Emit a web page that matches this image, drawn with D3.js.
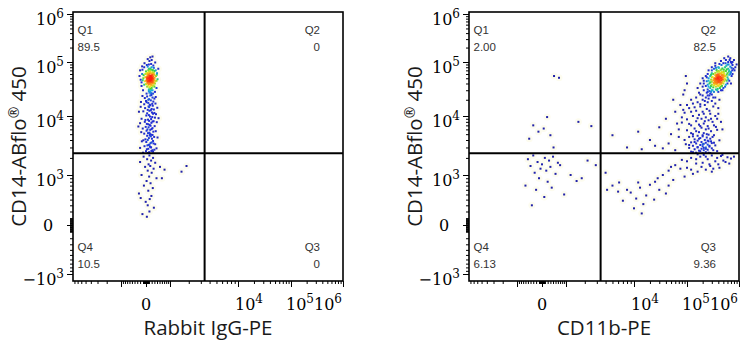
<!DOCTYPE html>
<html>
<head>
<meta charset="utf-8">
<script src="https://cdn.jsdelivr.net/npm/d3@7"></script>
<style>
  body { margin: 0; background: #fff; }
  svg { display: block; }
  .tick-label { font-family: "DejaVu Serif", serif; font-size: 16px; fill: #000; }
  .quad-label { font-family: "Liberation Sans", Arial, sans-serif; font-size: 11.5px; fill: #333; }
  .axis-title { font-family: "Open Sans", "Noto Sans", sans-serif; font-size: 20.5px; fill: #1a1a1a; }
</style>
</head>
<body>
<svg id="chart" width="752" height="350"></svg>
<script>
/* Events, [x, y] in fluorescence units */
const leftEvents = [
  // dense core
  [120,46000],[180,52000],[60,41000],[240,48000],[150,39000],[90,55000],[210,44000],[30,47000],[280,42000],[130,61000],
  [170,45000],[100,50000],[220,57000],[-40,44000],[310,51000],[140,35000],[70,63000],[190,38000],[250,60000],[110,43000],
  [160,49000],[20,53000],[230,40000],[80,37000],[300,46000],[-90,50000],[140,68000],[200,33000],[50,58000],[260,54000],
  [120,40000],[180,47000],[0,39000],[340,44000],[100,31000],[230,65000],[-20,60000],[150,55000],[270,37000],[60,48000],
  [130,52000],[210,50000],[90,45000],[160,42000],[40,35000],[290,58000],[-60,38000],[180,72000],[110,57000],[240,43000],
  [150,47000],[70,53000],[200,61000],[120,34000],[320,40000],[10,45000],[170,38000],[260,49000],[80,70000],[140,44000],
  [190,56000],[-110,46000],[230,52000],[100,29000],[50,42000],[280,63000],[160,32000],[130,48000],[220,36000],[70,59000],
  [360,55000],[-30,52000],[150,76000],[200,42000],[90,39000],[250,45000],[110,66000],[180,30000],[30,62000],[140,50000],
  [170,54000],[60,44000],[270,41000],[-80,57000],[210,47000],[120,27000],[300,35000],[160,64000],[40,50000],[230,30000],
  [-120,72000],[350,70000],[-60,80000],[280,78000],[60,82000],[200,80000],[-100,30000],[320,28000],[20,26000],[250,26000],
  [150,28000],[-150,42000],[380,45000],[-130,60000],[390,58000],[100,74000],[240,71000],[0,67000],[300,68000],[180,26500],
  // top of the column
  [100,90000],[200,110000],[-50,95000],[260,86000],[150,125000],[30,88000],[330,98000],[120,105000],[-130,83000],[230,130000],
  [180,92000],[60,115000],[-200,70000],[-180,47000],[420,48000],[400,62000],[-150,36000],[380,33000],[450,75000],[-220,55000],
  // column down to the gate
  [150,24000],[40,23000],[230,22000],[-120,23500],[300,21000],[110,20500],[-40,21500],[190,24500],[80,20000],[350,22500],
  [0,19000],[260,18500],[80,17500],[-60,16500],[170,19500],[340,17000],[130,16200],[20,18000],[220,16800],[-170,18200],
  [240,15500],[-180,14800],[90,15000],[200,13500],[410,14200],[60,13000],[150,15800],[-30,14000],[280,13200],[110,14600],
  [120,12500],[-240,12000],[210,11600],[40,11200],[360,10800],[100,10400],[-90,12200],[250,11000],[10,10200],[170,12800],[300,11400],
  [140,9800],[320,9400],[-150,9000],[70,8700],[220,9600],[460,9200],[-20,8600],[180,8900],
  [110,8300],[-40,8000],[190,7700],[30,7400],[270,8200],[-200,7600],[130,7100],[390,7900],[80,7300],[230,8100],
  [160,6900],[-10,6600],[230,6300],[50,6000],[310,6800],[-110,6200],[150,5900],[90,6500],[200,6100],[-260,6700],
  [20,5700],[260,5500],[120,5300],[-60,5100],[180,4900],[350,5600],[70,5200],[140,5000],[-160,5400],[230,4850],
  [40,4700],[290,4500],[100,4300],[-20,4100],[170,4600],[420,4400],[60,4000],[210,4200],[-90,3950],[130,4750],
  [250,3850],[10,3700],[160,3550],[330,3400],[-140,3800],[90,3300],[200,3650],[50,3250],[270,3500],[120,3350],
  [-50,3150],[180,3000],[380,2900],[30,2800],[140,3100],[-200,2950],[230,2700],[80,2850],[300,2750],[160,3050],
  [0,2600],[110,2500],[250,2550],[-100,2450],[190,2620],[60,2420],
  // below the gate
  [120,2200],[-80,2100],[250,2000],[40,1900],[180,1800],[-200,1700],[330,1650],[90,1550],[150,1450],[-30,1400],
  [270,1300],[60,1200],[200,1100],[-150,1000],[110,950],[380,900],[20,820],[160,760],[-70,700],[240,640],
  [80,580],[-240,520],[190,470],[130,410],[-10,360],[60,300],[280,260],[120,200],[-120,160],[30,120],
  [1550,1150],[1850,1450],[520,1400],[720,1250],[600,900],[-180,430]
];

const rightEvents = [
  // Q2 core
  [400000,45000],[350000,40000],[450000,50000],[380000,52000],[420000,38000],[320000,46000],[480000,56000],[360000,35000],[440000,43000],[300000,38000],
  [520000,60000],[390000,48000],[410000,55000],[340000,44000],[460000,41000],[370000,58000],[500000,47000],[280000,33000],[430000,62000],[330000,50000],
  [470000,65000],[360000,42000],[400000,36000],[550000,55000],[310000,30000],[420000,47000],[380000,44000],[490000,52000],[350000,57000],[260000,35000],
  [440000,70000],[400000,53000],[370000,39000],[600000,62000],[330000,41000],[460000,46000],[290000,28000],[510000,72000],[390000,37000],[420000,60000],
  [340000,48000],[480000,43000],[250000,31000],[560000,68000],[410000,49000],[360000,55000],[450000,39000],[320000,34000],[530000,50000],[380000,66000],
  [300000,43000],[470000,58000],[430000,33000],[370000,47000],[620000,75000],[270000,40000],[400000,42000],[500000,63000],[350000,50000],[440000,54000],
  [240000,27000],[580000,58000],[390000,59000],[330000,37000],[460000,73000],[410000,44000],[290000,47000],[540000,80000],[360000,31000],[480000,48000],
  [420000,52000],[310000,53000],[650000,70000],[380000,41000],[450000,61000],[270000,29000],[520000,44000],[400000,68000],[340000,39000],[490000,57000],
  [230000,36000],[430000,46000],[570000,85000],[360000,49000],[470000,36000],[300000,25000],[410000,78000],[350000,45000],[600000,52000],[380000,56000],
  [440000,40000],[280000,42000],[510000,66000],[390000,32000],[320000,60000],[460000,51000],[250000,24000],[680000,82000],[420000,42000],[370000,71000],
  [210000,30000],[550000,47000],[330000,28000],[480000,76000],[400000,58000],[260000,45000],[630000,90000],[440000,35000],[350000,63000],[500000,40000],
  [290000,36000],[410000,66000],[700000,65000],[370000,43000],[460000,88000],[230000,22000],[520000,55000],[300000,52000],[580000,73000],[390000,50000],
  [260000,70000],[600000,90000],[240000,52000],[680000,60000],[560000,38000],[300000,80000],[720000,78000],[500000,33000],[280000,55000],[640000,66000],
  [210000,45000],[620000,48000],[350000,95000],[750000,100000],[380000,30000],
  // Q2 fringe around the core
  [500000,95000],[620000,100000],[420000,92000],[750000,88000],[560000,110000],[350000,85000],[680000,120000],[450000,105000],[780000,75000],[300000,70000],
  [720000,95000],[250000,60000],[820000,70000],[200000,50000],[180000,40000],[650000,45000],[720000,55000],[160000,33000],[700000,40000],[230000,55000],
  [180000,25000],[260000,50000],[210000,40000],[300000,62000],[550000,95000],[650000,58000],[740000,70000],[850000,80000],[600000,40000],[540000,35000],
  [480000,30000],[320000,22000],[270000,24000],[400000,28000],[360000,78000],[290000,58000],[200000,35000],[250000,38000],[700000,100000],[800000,110000],
  [520000,120000],[620000,130000],[450000,30000],[580000,45000],[330000,75000],[900000,90000],[750000,60000],[400000,80000],[240000,44000],[660000,110000],
  // stream towards the gate
  [200000,20000],[160000,18000],[260000,21000],[130000,17000],[220000,16000],[300000,19000],[180000,15000],[110000,14000],[240000,13500],[150000,12500],
  [350000,17000],[200000,12000],[90000,11500],[280000,11000],[170000,10500],[130000,10000],[230000,9500],[400000,14000],[190000,9000],[100000,8800],
  [260000,8500],[150000,8200],[310000,8000],[80000,7800],[210000,7500],[170000,7200],[120000,7000],[250000,6800],[360000,6600],[190000,6400],
  [140000,6200],[230000,6000],[100000,5800],[290000,5600],[170000,5400],[210000,5200],[130000,5000],[260000,4900],[330000,4800],[160000,4700],
  [200000,4600],[110000,4500],[240000,4400],[180000,4300],[280000,4200],[140000,4100],[220000,4000],[420000,3950],[160000,3900],[260000,3800],
  [190000,3700],[120000,3650],[230000,3600],[300000,3550],[150000,3500],[210000,3450],[95000,3400],[250000,3350],[180000,3300],[350000,3250],
  [130000,3200],[200000,3150],[270000,3100],[160000,3050],[230000,3000],[110000,2950],[300000,2900],[190000,2850],[140000,2800],[250000,2750],
  [210000,2700],[170000,2650],[380000,2600],[120000,2550],[230000,2500],[150000,2450],[280000,2420],[200000,2400],
  [250000,18000],[180000,16500],[320000,15000],[140000,14500],[270000,12500],[210000,11000],[120000,12000],[350000,10000],[160000,9200],[290000,9000],
  [220000,8200],[110000,7400],[330000,7000],[180000,6800],[260000,6200],[150000,5600],[380000,5900],[120000,5200],[240000,5000],[200000,4800],
  [310000,4500],[170000,4200],[90000,4000],[250000,3900],[140000,3700],[330000,3600],[200000,3400],[110000,3300],[270000,3200],[160000,3000],
  [230000,2850],[320000,2700],[180000,2600],[130000,2500],[260000,2450],[70000,6000],[85000,13000],[450000,8000],[400000,11000],[480000,6000],
  [150000,22000],[280000,26000],[200000,24000],[350000,22000],[120000,20000],[420000,20000],[250000,28000],[170000,27000],[300000,30000],[220000,19000],
  [100000,16000],[380000,9000],[130000,4600],[290000,3800],[210000,2950],
  // scattered Q2
  [60000,12000],[40000,9000],[75000,16000],[30000,6500],[50000,5000],[85000,25000],[20000,4000],[65000,7500],[45000,3500],[90000,30000],
  [35000,2900],[70000,4500],[55000,20000],[25000,3200],[14000,2800],[80000,9500],[12000,5500],[95000,55000],[8000,3000],[60000,2700],
  [5000,4800],[100000,40000],
  // Q3
  [300000,2200],[180000,2100],[450000,2150],[120000,2000],[250000,1900],[600000,2050],[80000,1850],[350000,1750],[200000,1650],[150000,1600],
  [500000,1800],[60000,1500],[280000,1450],[100000,1350],[400000,1550],[230000,1250],[45000,1200],[160000,1150],[700000,1950],[130000,1050],
  [35000,1000],[90000,950],[320000,1300],[55000,850],[210000,2250],[800000,2100],[25000,800],
  [380000,2000],[150000,1900],[550000,1700],[100000,1750],[270000,1550],[650000,1600],[190000,1400],[420000,1350],[75000,1300],[300000,1150],
  [50000,1400],[120000,1250],[230000,2100],[480000,2250],[160000,2300],
  [20000,720],[13000,650],[30000,600],[9000,540],[17000,480],[40000,520],[11000,420],[7000,380],[24000,400],[15000,320],
  [6000,560],[10000,250],[14000,170],[5000,700],[28000,900],[12000,780],[45000,700],[8000,600],
  [4000,1100],[4200,600],[6200,780],
  // Q1
  [440,55000],[650,51000],[180,9600],[-300,7000],[-120,5500],[60,6200],[300,4800],[-450,4200],[420,3000],[1600,8000],[2500,6800],
  // Q4
  [-300,2200],[100,2000],[400,2100],[-500,1900],[250,1800],[-150,1700],[600,1650],[0,1550],[-400,1450],[300,1400],
  [-50,1300],[150,1200],[-250,1100],[500,1050],[1200,1000],[1500,820],[1800,900],[2200,1800],[2900,1500],[-600,700],
  [200,800],[-200,600],[80,450],[-350,300],[350,650],[-100,900],[700,1500],[900,500]
];

const quadNames = ['Q1', 'Q2', 'Q3', 'Q4'];
const leftQuadStats = ['89.5', '0', '0', '10.5'];
const rightQuadStats = ['2.00', '82.5', '9.36', '6.13'];
const xTitles = ['Rabbit IgG-PE', 'CD11b-PE'];
const yTitleParts = ['CD14-ABflo', '\u00AE', ' 450'];
const xLabelValues = [0, 1e4, 1e5, 1e6];
const yLabelValues = [-1e3, 0, 1e3, 1e4, 1e5, 1e6];
const gate = { x: 3400, y: 2400 };

/* Layout */
const PANEL_W = 270;
const PANEL_H = 269;
const PANEL_TOP = 12;
const PANEL_LEFTS = [73, 469];
const X_COF = 800; // biexponential cofactors
const Y_COF = 500;
const ANCHOR_VALUES = [-1e3, 0, 1e3, 1e4, 1e5, 1e6];
const X_ANCHOR_PX = [48, 73, 97, 165, 218, 270];
const Y_ANCHOR_PX = [262, 213, 163, 104, 50, 2];
const DENSITY_R2 = 64; // neighbour radius, px squared

const tx = (v) => Math.asinh(v / X_COF);
const ty = (v) => Math.asinh(v / Y_COF);

const x = d3.scaleLinear().domain(ANCHOR_VALUES.map(tx)).range(X_ANCHOR_PX);
const y = d3.scaleLinear().domain(ANCHOR_VALUES.map(ty)).range(Y_ANCHOR_PX);
const px = (v) => x(tx(v));
const py = (v) => y(ty(v));

const densityColor = d3.scaleLinear()
  .domain([0, 24, 33, 42, 56, 76])
  .range(['#2020a8', '#2232d8', '#18b8e0', '#30d040', '#f2e51c', '#ff2010'])
  .clamp(true);

const svg = d3.select('#chart');

/**
 * Tick values for an axis, kept inside the panel.
 */
function tickValues (t, scale, extent) {
  const vals = [0, 1e6];
  [10, 100, 1e3, 1e4, 1e5].forEach((d) => {
    for (let m = 1; m <= 9; m++) vals.push(m * d, -m * d);
  });
  return vals.filter((v) => {
    const p = scale(t(v));
    return p >= -0.5 && p <= extent + 0.5;
  });
}

function superLabel (sel, v) {
  if (v === 0) {
    sel.text('0');
    return;
  }
  sel.append('tspan').text(v < 0 ? '\u221210' : '10');
  sel.append('tspan')
    .attr('dy', -7)
    .style('font-size', '12px')
    .text(Math.round(Math.log10(Math.abs(v))));
}

function drawPanel (idx, events, stats) {
  const left = PANEL_LEFTS[idx];
  const g = svg.append('g').attr('transform', `translate(${left},${PANEL_TOP})`);

  // density for pseudocolour
  const pts = events.map(([vx, vy]) => ({ x: px(vx), y: py(vy), n: 0 }));
  pts.forEach((a) => {
    pts.forEach((b) => {
      const dx = a.x - b.x;
      const dy = a.y - b.y;
      if (a !== b && dx * dx + dy * dy < DENSITY_R2) a.n++;
    });
  });
  pts.sort((a, b) => a.n - b.n);

  const clip = `clip${idx}`;
  g.append('clipPath').attr('id', clip)
    .append('rect').attr('width', PANEL_W).attr('height', PANEL_H);
  const plot = g.append('g').attr('clip-path', `url(#${clip})`);

  plot.selectAll('circle.halo')
    .data(pts)
    .join('circle')
    .attr('class', 'halo')
    .attr('cx', (d) => d.x)
    .attr('cy', (d) => d.y)
    .attr('r', 3.5)
    .attr('fill', '#fdfcef');

  plot.selectAll('rect.event')
    .data(pts)
    .join('rect')
    .attr('class', 'event')
    .attr('x', (d) => d.x - 1)
    .attr('y', (d) => d.y - 1)
    .attr('width', 2)
    .attr('height', 2)
    .attr('fill', (d) => densityColor(d.n));

  // gates
  g.append('line')
    .attr('x1', px(gate.x)).attr('x2', px(gate.x))
    .attr('y1', 0).attr('y2', PANEL_H)
    .attr('stroke', '#000').attr('stroke-width', 2);
  g.append('line')
    .attr('x1', 0).attr('x2', PANEL_W)
    .attr('y1', py(gate.y)).attr('y2', py(gate.y))
    .attr('stroke', '#000').attr('stroke-width', 2);

  g.append('rect')
    .attr('width', PANEL_W).attr('height', PANEL_H)
    .attr('fill', 'none').attr('stroke', '#000').attr('stroke-width', 1.6);

  // ticks
  const xt = tickValues(tx, x, PANEL_W);
  const yt = tickValues(ty, y, PANEL_H);
  const major = (v) => ANCHOR_VALUES.includes(v);
  const styleAxis = (a) => {
    a.select('.domain').remove();
    a.selectAll('line').attr('stroke', '#000');
  };

  [[xt.filter((v) => !major(v)), 3], [xt.filter(major), 6]].forEach(([vals, len]) => {
    g.append('g')
      .attr('transform', `translate(0,${PANEL_H})`)
      .call(d3.axisBottom(x).tickValues(vals.map(tx)).tickSize(len).tickSizeOuter(0).tickFormat(''))
      .call(styleAxis);
  });
  [[yt.filter((v) => !major(v)), 3], [yt.filter(major), 6]].forEach(([vals, len]) => {
    g.append('g')
      .call(d3.axisLeft(y).tickValues(vals.map(ty)).tickSize(len).tickSizeOuter(0).tickFormat(''))
      .call(styleAxis);
  });

  // tick labels
  yLabelValues.forEach((v) => {
    const t = g.append('text')
      .attr('class', 'tick-label')
      .attr('text-anchor', v === 0 ? 'middle' : 'end')
      .attr('x', v === 0 ? -25 : -9)
      .attr('y', py(v) + (v === 0 ? 6 : 11));
    superLabel(t, v);
  });
  // x labels right to left so the last decade stays inside and the next one abuts it
  let limit = PANEL_W - 1;
  xLabelValues.slice().reverse().forEach((v) => {
    const t = g.append('text')
      .attr('class', 'tick-label')
      .attr('y', PANEL_H + 29);
    superLabel(t, v);
    if (v === 0) {
      t.attr('text-anchor', 'middle').attr('x', px(v));
    } else {
      const w = t.node().getComputedTextLength();
      const xs = Math.min(px(v) - 3, limit - w);
      t.attr('x', xs);
      limit = xs;
    }
  });

  // quadrant labels
  const gx = [4.5, PANEL_W - 23];
  const pos = [[0, 22, 'start'], [1, 22, 'end'], [1, 239, 'end'], [0, 239, 'start']];
  quadNames.forEach((q, i) => {
    const [side, by, anchor] = pos[i];
    const lbl = g.append('text')
      .attr('class', 'quad-label')
      .attr('x', gx[side])
      .attr('text-anchor', anchor);
    lbl.append('tspan').attr('x', gx[side]).attr('y', by).text(q);
    lbl.append('tspan').attr('x', gx[side]).attr('y', by + 17).text(stats[i]);
  });

  // axis titles
  g.append('text')
    .attr('class', 'axis-title')
    .attr('x', PANEL_W / 2)
    .attr('y', PANEL_H + 54)
    .attr('text-anchor', 'middle')
    .text(xTitles[idx]);

  const yt1 = g.append('text')
    .attr('class', 'axis-title')
    .attr('text-anchor', 'middle')
    .attr('transform', `translate(-47.5,${PANEL_H / 2}) rotate(-90)`);
  yt1.append('tspan').text(yTitleParts[0]);
  yt1.append('tspan').attr('dy', -7).style('font-size', '14px').text(yTitleParts[1]);
  yt1.append('tspan').attr('dy', 7).text(yTitleParts[2]);
}

drawPanel(0, leftEvents, leftQuadStats);
drawPanel(1, rightEvents, rightQuadStats);
</script>
</body>
</html>
